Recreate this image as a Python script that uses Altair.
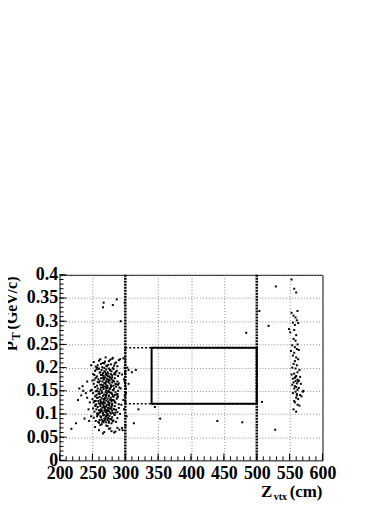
import altair as alt
import pandas as pd

# ---- data ----
# main cluster (Z ~ 250-290 cm)
c1_z = [252,258,262,265,268,270,272,275,278,280,283,286,290,255,263,269,274,281,288,260,266,271,277,284,292,257]
c1_p = [0.212,0.205,0.218,0.201,0.209,0.222,0.203,0.214,0.207,0.219,0.204,0.211,0.216,0.202,0.208,0.213,0.206,0.221,0.203,0.215,0.210,0.204,0.217,0.209,0.218,0.200]
c2_z = [251,254,257,259,261,263,264,266,267,268,269,270,271,272,273,274,275,276,277,278,279,280,282,284,285,287,289,291,256,262,265,268,271,274,277,281,283,286,253,260]
c2_p = [0.186,0.193,0.181,0.197,0.189,0.184,0.195,0.188,0.182,0.199,0.191,0.185,0.196,0.183,0.190,0.187,0.198,0.181,0.194,0.186,0.192,0.183,0.197,0.189,0.185,0.193,0.182,0.188,0.196,0.190,0.184,0.192,0.187,0.181,0.195,0.199,0.186,0.191,0.184,0.198]
c3_z = [250,252,255,257,259,260,262,263,265,266,267,268,269,270,271,272,273,274,275,276,277,278,279,280,281,282,284,286,288,290,253,258,264,268,272,276,280,285,261,270,274,279,266,283,289]
c3_p = [0.172,0.165,0.178,0.161,0.175,0.168,0.163,0.177,0.170,0.162,0.174,0.167,0.179,0.164,0.171,0.176,0.160,0.169,0.173,0.166,0.178,0.162,0.175,0.168,0.172,0.161,0.177,0.164,0.170,0.166,0.174,0.169,0.163,0.176,0.161,0.172,0.179,0.165,0.171,0.167,0.174,0.160,0.178,0.170,0.163]
c4_z = [249,251,254,256,258,260,261,263,264,265,267,268,269,270,271,272,273,274,275,276,277,278,280,281,283,285,287,289,291,255,259,262,266,270,273,277,279,282,286,288,257,264,271,275,284]
c4_p = [0.152,0.145,0.158,0.141,0.155,0.148,0.143,0.157,0.150,0.146,0.154,0.142,0.159,0.147,0.151,0.144,0.156,0.149,0.140,0.153,0.146,0.158,0.143,0.151,0.155,0.147,0.142,0.150,0.157,0.149,0.144,0.153,0.158,0.141,0.148,0.155,0.145,0.152,0.159,0.143,0.150,0.146,0.156,0.148,0.141]
c5_z = [250,252,254,256,257,259,260,261,262,263,264,265,266,267,268,269,270,271,272,273,274,275,276,277,278,279,280,281,282,283,285,287,289,290,253,258,263,267,271,275,279,284,288,255,262,269,274,281,266,277]
c5_p = [0.132,0.125,0.138,0.121,0.135,0.128,0.123,0.137,0.130,0.126,0.134,0.122,0.139,0.127,0.131,0.124,0.136,0.129,0.120,0.133,0.126,0.138,0.123,0.131,0.135,0.127,0.122,0.130,0.137,0.129,0.124,0.133,0.138,0.121,0.128,0.135,0.125,0.132,0.139,0.123,0.130,0.126,0.136,0.128,0.121,0.134,0.127,0.139,0.124,0.131]
c6_z = [251,253,255,257,258,260,261,262,263,264,265,266,267,268,269,270,271,272,273,274,275,276,277,278,279,280,281,283,284,286,288,290,254,259,264,268,272,276,280,285,256,263,270,274,278,267,271,275,262,282]
c6_p = [0.112,0.105,0.118,0.101,0.115,0.108,0.103,0.117,0.110,0.106,0.114,0.102,0.119,0.107,0.111,0.104,0.116,0.109,0.100,0.113,0.106,0.118,0.103,0.111,0.115,0.107,0.102,0.110,0.117,0.109,0.104,0.113,0.118,0.101,0.108,0.115,0.105,0.112,0.119,0.103,0.110,0.106,0.116,0.108,0.101,0.114,0.107,0.119,0.104,0.111]
c7_z = [252,255,258,260,262,264,265,266,268,269,270,271,272,273,274,275,276,278,279,280,282,284,286,288,257,261,267,270,273,277,281,263,268,275,279,271,266,274,283,259]
c7_p = [0.092,0.085,0.098,0.081,0.095,0.088,0.083,0.097,0.090,0.086,0.094,0.082,0.099,0.087,0.091,0.084,0.096,0.089,0.080,0.093,0.086,0.098,0.083,0.091,0.095,0.087,0.082,0.090,0.097,0.089,0.084,0.093,0.098,0.081,0.088,0.095,0.085,0.092,0.099,0.083]
c8_z = [254,260,264,268,271,275,279,283,288,291,266,273,277,262,285]
c8_p = [0.072,0.065,0.078,0.061,0.075,0.068,0.063,0.060,0.070,0.066,0.058,0.074,0.069,0.076,0.062]
# stray points left of the cluster
left_z = [218,225,228,230,235,238,240,242,244,245,246,247,242,236,248,233,248]
left_p = [0.068,0.080,0.130,0.155,0.160,0.090,0.145,0.170,0.110,0.085,0.125,0.150,0.135,0.150,0.205,0.140,0.095]
# points near Z = 300 cm
edge_z = [297,299,300,298,301,299,300,298,302,300,296,299,301,297,303,295,294,293,292,295]
edge_p = [0.220,0.200,0.190,0.175,0.155,0.140,0.125,0.110,0.095,0.075,0.065,0.170,0.145,0.130,0.200,0.185,0.120,0.155,0.100,0.070]
# high-pT strays and scattered points
high_z = [266,267,281,287,293,299]
high_p = [0.330,0.340,0.335,0.347,0.300,0.340]
scat_z = [305,310,316,305,320,313,345,353,440,478,484,508,518,504,529,528]
scat_p = [0.195,0.190,0.195,0.165,0.110,0.080,0.115,0.090,0.085,0.082,0.275,0.126,0.290,0.322,0.375,0.066]
# cluster at Z ~ 550-570 cm
r_z = [553,557,560,562,553,556,559,561,555,558,563,549,551,557,560,556,559,562,554,558,561,564,552,557,555,560,563,558,556,561,554,559,565,562,557,553,560,566,558,555,562,559,563,556,561,567,554,558,560,564,557,562,571,559,555,561,566,568,560,563,557,558,562,565,570,556,560,564,561,559]
r_p = [0.390,0.370,0.362,0.322,0.318,0.312,0.308,0.302,0.297,0.292,0.296,0.283,0.276,0.281,0.270,0.262,0.258,0.250,0.248,0.244,0.240,0.238,0.236,0.232,0.226,0.222,0.218,0.214,0.208,0.205,0.200,0.198,0.195,0.190,0.187,0.185,0.182,0.180,0.178,0.176,0.174,0.171,0.170,0.168,0.166,0.165,0.163,0.160,0.158,0.156,0.155,0.152,0.150,0.148,0.145,0.143,0.141,0.138,0.135,0.132,0.128,0.125,0.120,0.118,0.148,0.110,0.105,0.172,0.140,0.180]

# cut lines and boxes
cut_lines = [300, 500]
dotted_box = [300, 500, 0.122, 0.243]
solid_box = [340, 500, 0.122, 0.243]

x_major = [200, 250, 300, 350, 400, 450, 500, 550, 600]
y_major = [0, 0.05, 0.1, 0.15, 0.2, 0.25, 0.3, 0.35, 0.4]
x_minor = list(range(200, 601, 10))
y_minor = [i / 100 for i in range(0, 41)]

# ---- build tables ----
zs, ps = [], []
for a, b in [(c1_z, c1_p), (c2_z, c2_p), (c3_z, c3_p), (c4_z, c4_p), (c5_z, c5_p),
             (c6_z, c6_p), (c7_z, c7_p), (c8_z, c8_p), (left_z, left_p), (edge_z, edge_p),
             (high_z, high_p), (scat_z, scat_p), (r_z, r_p)]:
    for z, p in zip(a, b):
        zs.append(z)
        ps.append(p)
pts = pd.DataFrame({"z": zs, "pt": ps})

W, H = 265, 187
FONT = "Liberation Serif"

xs = alt.Scale(domain=[200, 600], nice=False, zero=False)
ys = alt.Scale(domain=[0, 0.4], nice=False)

xax = alt.Axis(values=x_major, format="d", grid=True, gridColor="#888", gridDash=[1, 2],
               ticks=False, domain=False, labelFont=FONT, labelFontWeight="bold",
               labelFontSize=18, labelColor="black", labelPadding=4,
               labelOverlap=False, labelFlush=False, title=None)
yax = alt.Axis(values=y_major, format="~g", grid=True, gridColor="#888", gridDash=[1, 2],
               ticks=False, domain=False, labelFont=FONT, labelFontWeight="bold",
               labelFontSize=18, labelColor="black", labelPadding=2,
               labelOverlap=False, labelFlush=False, title=None)

def X(f):
    return alt.X(f, scale=xs, axis=xax)

def Y(f):
    return alt.Y(f, scale=ys, axis=yax)

scatter = alt.Chart(pts).mark_square(size=4, color="black", opacity=1).encode(
    x=X("z:Q"), y=Y("pt:Q"))

vlines = alt.Chart(pd.DataFrame({"z": cut_lines})).mark_rule(
    color="black", strokeWidth=2.5, strokeDash=[2, 1]
).encode(x=X("z:Q"), y=alt.value(0), y2=alt.value(H))

dbox = pd.DataFrame({"x1": [dotted_box[0]], "x2": [dotted_box[1]],
                     "y1": [dotted_box[2]], "y2": [dotted_box[3]]})
dotted = alt.Chart(dbox).mark_rect(
    fillOpacity=0, stroke="black", strokeWidth=1.5, strokeDash=[2, 2]
).encode(x=X("x1:Q"), x2="x2:Q", y=Y("y1:Q"), y2="y2:Q")

sbox = pd.DataFrame({"x1": [solid_box[0]], "x2": [solid_box[1]],
                     "y1": [solid_box[2]], "y2": [solid_box[3]]})
solid = alt.Chart(sbox).mark_rect(
    fillOpacity=0, stroke="black", strokeWidth=2
).encode(x=X("x1:Q"), x2="x2:Q", y=Y("y1:Q"), y2="y2:Q")

# inside ticks
xt_major = alt.Chart(pd.DataFrame({"v": x_major})).mark_rule(color="black").encode(
    x=X("v:Q"), y=alt.value(H), y2=alt.value(H - 7))
xt_minor = alt.Chart(pd.DataFrame({"v": x_minor})).mark_rule(color="black").encode(
    x=X("v:Q"), y=alt.value(H), y2=alt.value(H - 4))
yt_major = alt.Chart(pd.DataFrame({"v": y_major})).mark_rule(color="black").encode(
    y=Y("v:Q"), x=alt.value(0), x2=alt.value(7))
yt_minor = alt.Chart(pd.DataFrame({"v": y_minor})).mark_rule(color="black").encode(
    y=Y("v:Q"), x=alt.value(0), x2=alt.value(4))

def txt(s, x, y, size, angle=0, align="left"):
    return alt.Chart(pd.DataFrame({"t": [s]})).mark_text(
        font=FONT, fontWeight="bold", fontSize=size, color="black",
        align=align, baseline="alphabetic", angle=angle
    ).encode(text="t:N", x=alt.value(x), y=alt.value(y))

ytitle = txt("P", -43, 77, 17, 270) + txt("T", -40, 66, 12, 270) + txt("(GeV/c)", -43, 55, 16, 270)
xtitle = txt("Z", 203, 224, 17) + txt("vtx", 216, 227, 10) + txt("(cm)", 265, 224, 17, 0, "right")

chart = alt.layer(
    scatter, dotted, solid, vlines, xt_major, xt_minor, yt_major, yt_minor, ytitle, xtitle
).properties(
    width=W, height=H,
    autosize=alt.AutoSizeParams(type="none"),
    padding={"left": 52, "top": 267, "right": 60, "bottom": 40},
).configure_view(stroke="black", strokeWidth=1)

chart.save("out.html", embed_options={"renderer": "svg", "actions": False})
